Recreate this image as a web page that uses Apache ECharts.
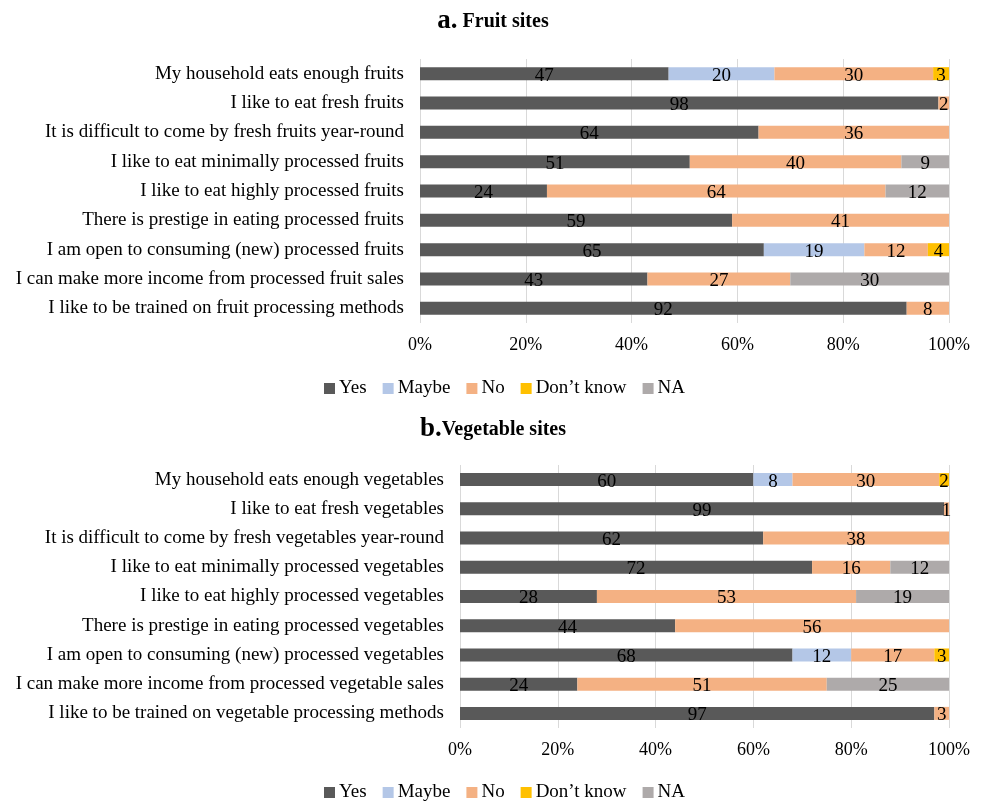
<!DOCTYPE html>
<html>
<head>
<meta charset="utf-8">
<script src="https://cdn.jsdelivr.net/npm/echarts@6/dist/echarts.min.js"></script>
<style>
html, body { margin: 0; padding: 0; background: #fff; }
#chart { width: 986px; height: 801px; }
</style>
</head>
<body>
<div id="chart"></div>
<script>
// answer categories (legend order)
var answers = ['Yes', 'Maybe', 'No', 'Don\u2019t know', 'NA'];
var colors = ['#595959', '#B4C7E7', '#F4B183', '#FFC000', '#AEAAAA'];
var ticks = [0, 20, 40, 60, 80, 100];

// a. Fruit sites
var fruitItems = [
    'My household eats enough fruits',
    'I like to eat fresh fruits',
    'It is difficult to come by fresh fruits year-round',
    'I like to eat minimally processed fruits',
    'I like to eat highly processed fruits',
    'There is prestige in eating processed fruits',
    'I am open to consuming (new) processed fruits',
    'I can make more income from processed fruit sales',
    'I like to be trained on fruit processing methods'
];
var fruitYes   = [47, 98, 64, 51, 24, 59, 65, 43, 92];
var fruitMaybe = [20, 0, 0, 0, 0, 0, 19, 0, 0];
var fruitNo    = [30, 2, 36, 40, 64, 41, 12, 27, 8];
var fruitDK    = [3, 0, 0, 0, 0, 0, 4, 0, 0];
var fruitNA    = [0, 0, 0, 9, 12, 0, 0, 30, 0];

// b. Vegetable sites
var vegItems = [
    'My household eats enough vegetables',
    'I like to eat fresh vegetables',
    'It is difficult to come by fresh vegetables year-round',
    'I like to eat minimally processed vegetables',
    'I like to eat highly processed vegetables',
    'There is prestige in eating processed vegetables',
    'I am open to consuming (new) processed vegetables',
    'I can make more income from processed vegetable sales',
    'I like to be trained on vegetable processing methods'
];
var vegYes   = [60, 99, 62, 72, 28, 44, 68, 24, 97];
var vegMaybe = [8, 0, 0, 0, 0, 0, 12, 0, 0];
var vegNo    = [30, 1, 38, 16, 53, 56, 17, 51, 3];
var vegDK    = [2, 0, 0, 0, 0, 0, 3, 0, 0];
var vegNA    = [0, 0, 0, 12, 19, 0, 0, 25, 0];

var font = '"Liberation Serif", "Times New Roman", serif';

function makeSeries(groups, idx, stack) {
    return groups.map(function (vals, i) {
        return {
            name: answers[i],
            type: 'bar',
            stack: stack,
            xAxisIndex: idx,
            yAxisIndex: idx,
            barWidth: 13,
            itemStyle: { color: colors[i] },
            label: {
                show: true,
                position: 'inside',
                offset: [0, 2],
                color: '#000',
                fontFamily: font,
                fontSize: 19,
                formatter: function (p) { return p.value ? p.value : ''; }
            },
            data: vals
        };
    });
}

function xAxisOf(idx) {
    return {
        type: 'value',
        gridIndex: idx,
        min: ticks[0],
        max: ticks[ticks.length - 1],
        interval: 20,
        axisLine: { show: false },
        axisTick: { show: false },
        splitLine: { lineStyle: { color: '#d9d9d9', width: 1 } },
        axisLabel: {
            margin: 13,
            color: '#000',
            fontFamily: font,
            fontSize: 18,
            formatter: '{value}%'
        }
    };
}

function yAxisOf(idx, items) {
    return {
        type: 'category',
        gridIndex: idx,
        inverse: true,
        data: items,
        axisLine: { show: false },
        axisTick: { show: false },
        axisLabel: {
            margin: 16,
            color: '#000',
            fontFamily: font,
            fontSize: 19
        }
    };
}

function legendAt(top) {
    return {
        top: top,
        left: 319,
        data: answers,
        icon: 'rect',
        itemWidth: 11,
        itemHeight: 11,
        itemGap: 16,
        textStyle: { color: '#000', fontFamily: font, fontSize: 19, padding: [0, 0, 0, -1] }
    };
}

function titleAt(top, letter, text) {
    return {
        top: top,
        left: 'center',
        text: '{l|' + letter + '}{t|' + text + '}',
        textStyle: {
            rich: {
                l: { fontFamily: font, fontSize: 27, fontWeight: 'bold', color: '#000' },
                t: { fontFamily: font, fontSize: 20, fontWeight: 'bold', color: '#000' }
            }
        }
    };
}

var option = {
    animation: false,
    title: [
        titleAt(3, 'a.', ' Fruit sites'),
        titleAt(411, 'b.', 'Vegetable sites')
    ],
    legend: [legendAt(374), legendAt(778)],
    grid: [
        { left: 420, right: 37, top: 59, height: 264 },
        { left: 460, right: 37, top: 465, height: 263 }
    ],
    xAxis: [xAxisOf(0), xAxisOf(1)],
    yAxis: [yAxisOf(0, fruitItems), yAxisOf(1, vegItems)],
    series: makeSeries([fruitYes, fruitMaybe, fruitNo, fruitDK, fruitNA], 0, 'fruit')
        .concat(makeSeries([vegYes, vegMaybe, vegNo, vegDK, vegNA], 1, 'veg'))
};

var chart = echarts.init(document.getElementById('chart'));
chart.setOption(option);
</script>
</body>
</html>
